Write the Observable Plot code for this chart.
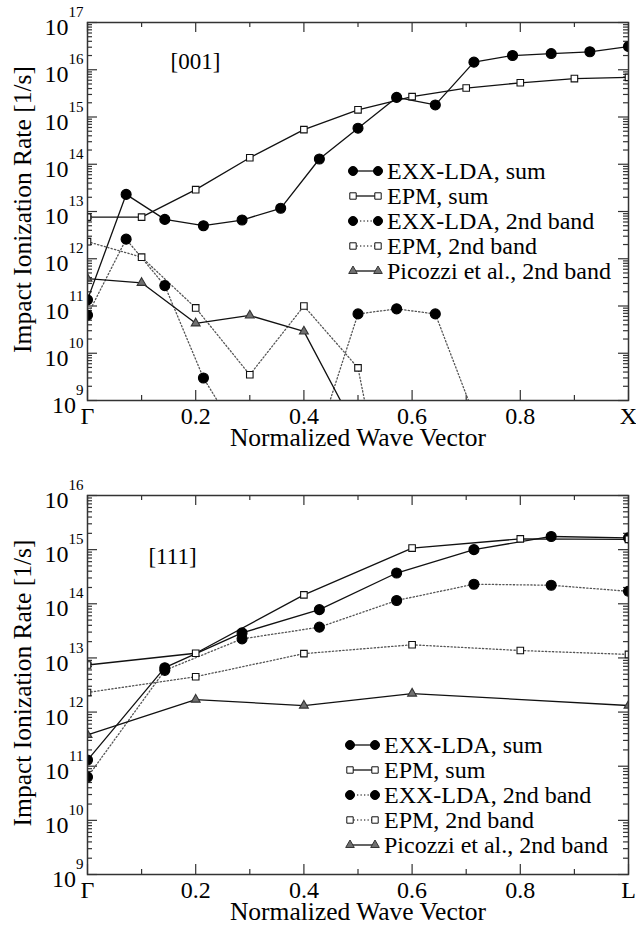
<!DOCTYPE html>
<html>
<head>
<meta charset="utf-8">
<script src="https://cdn.jsdelivr.net/npm/d3@7"></script>
<script src="https://cdn.jsdelivr.net/npm/@observablehq/plot@0.6"></script>
<style>
  html, body { margin: 0; padding: 0; background: #fff; }
  #chart { width: 636px; height: 927px; overflow: hidden; }
  #chart svg { display: block; }
</style>
</head>
<body>
<div id="chart"></div>
<script>
// ---------------- DATA ----------------
const xTickValues = [0, 0.2, 0.4, 0.6, 0.8, 1];
const xMinorTickValues = [0.1, 0.3, 0.5, 0.7, 0.9];
const seriesNames = ["EXX-LDA, sum", "EPM, sum", "EXX-LDA, 2nd band", "EPM, 2nd band", "Picozzi et al., 2nd band"];

// Panel [001]
const x001Exx = [0, 0.0714, 0.1429, 0.2143, 0.2857, 0.3571, 0.4286, 0.5, 0.5714, 0.6429, 0.7143, 0.7857, 0.8571, 0.9286, 1];
const exxSum001 = [1.35e11, 2.3e13, 6.8e12, 5.0e12, 6.6e12, 1.17e13, 1.29e14, 5.8e14, 2.6e15, 1.8e15, 1.45e16, 2.0e16, 2.2e16, 2.4e16, 3.1e16];
const exx2nd001 = [6.4e10, 2.6e12, 2.7e11, 3.0e9, 1.4e8, 5e7, 2e8, 6.8e10, 8.7e10, 6.8e10, 5e8];
const x001Epm = [0, 0.1, 0.2, 0.3, 0.4, 0.5, 0.6, 0.7, 0.8, 0.9, 1];
const epmSum001 = [7.6e12, 7.6e12, 2.9e13, 1.37e14, 5.4e14, 1.42e15, 2.7e15, 4.1e15, 5.3e15, 6.5e15, 6.9e15];
const epm2nd001 = [2.3e12, 1.08e12, 9.1e10, 3.5e9, 1.0e11, 4.9e9, 1e4];
const x001Pic = [0, 0.1, 0.2, 0.3, 0.4, 0.5];
const picozzi001 = [3.8e11, 3.1e11, 4.3e10, 6.3e10, 2.9e10, 2e8];

// Panel [111]
const x111Exx = [0, 0.1429, 0.2857, 0.4286, 0.5714, 0.7143, 0.8571, 1];
const exxSum111 = [1.3e11, 6.6e12, 2.9e13, 7.8e13, 3.7e14, 1.0e15, 1.75e15, 1.65e15];
const exx2nd111 = [6.3e10, 5.9e12, 2.25e13, 3.7e13, 1.15e14, 2.3e14, 2.2e14, 1.7e14];
const x111Epm = [0, 0.2, 0.4, 0.6, 0.8, 1];
const epmSum111 = [7.4e12, 1.22e13, 1.46e14, 1.07e15, 1.58e15, 1.55e15];
const epm2nd111 = [2.3e12, 4.5e12, 1.2e13, 1.75e13, 1.37e13, 1.16e13];
const x111Pic = [0, 0.2, 0.4, 0.6, 1];
const picozzi111 = [3.8e11, 1.7e12, 1.32e12, 2.2e12, 1.32e12];

// ---------------- STYLE ----------------
const FONT = "'Liberation Serif', 'Times New Roman', Times, serif";
const DOT = "1.3,2.2";
const styles = [
  {symbol: "circle",   r: 5,   fill: "#000",    stroke: "#000", line: "#111", dash: null, lw: 1.3},
  {symbol: "square",   r: 3.7, fill: "#fff",    stroke: "#111", line: "#111", dash: null, lw: 1.3},
  {symbol: "circle",   r: 5,   fill: "#000",    stroke: "#000", line: "#555", dash: DOT,  lw: 1.3},
  {symbol: "square",   r: 3.7, fill: "#fff",    stroke: "#111", line: "#555", dash: DOT,  lw: 1.3},
  {symbol: "triangle", r: 3.3, fill: "#707070", stroke: "#333", line: "#111", dash: null, lw: 1.3}
];
const legendSize = [4.5, 3.6, 4.5, 3.6, 3.2];

const rows = (xs, ys) => ys.map((y, i) => ({x: xs[i], y}));

function makePanel(cfg) {
  const W = 636, ml = 87, mr = 8;
  const {height, mt, mb, yLo, yHi, data, lastLabel, tag, tagDx, tagDy, legX, legY, tickDy} = cfg;
  const innerW = W - ml - mr, innerH = height - mt - mb;
  const majors = d3.range(yLo, yHi + 1).map(e => 10 ** e);
  const minors = [];
  for (let e = yLo; e < yHi; e++) for (let m = 2; m <= 9; m++) minors.push(m * 10 ** e);
  const tk = {stroke: "#333", strokeWidth: 1.2};

  const marks = [
    Plot.tickY(majors, {y: d => d, insetRight: innerW - 10, ...tk}),
    Plot.tickY(majors, {y: d => d, insetLeft: innerW - 10, ...tk}),
    Plot.tickY(minors, {y: d => d, insetRight: innerW - 5, ...tk}),
    Plot.tickY(minors, {y: d => d, insetLeft: innerW - 5, ...tk}),
    Plot.tickX(xTickValues, {x: d => d, insetTop: innerH - 10, ...tk}),
    Plot.tickX(xTickValues, {x: d => d, insetBottom: innerH - 10, ...tk}),
    Plot.tickX(xMinorTickValues, {x: d => d, insetTop: innerH - 5, ...tk}),
    Plot.tickX(xMinorTickValues, {x: d => d, insetBottom: innerH - 5, ...tk}),
    Plot.axisX({ticks: xTickValues, tickSize: 0, tickPadding: 6, fontSize: 24, label: null,
      tickFormat: d => d === 0 ? "Γ" : d === 1 ? lastLabel : d.toFixed(1)}),
    Plot.axisY({ticks: majors, tickSize: 0, tickPadding: 4, fontSize: 24, label: null, dy: tickDy,
      tickFormat: d => String(Math.round(Math.log10(d)))}),
    Plot.text(["Normalized Wave Vector"], {frameAnchor: "bottom", dy: 45, textAnchor: "middle", lineAnchor: "bottom", fontSize: 25.5, fill: "#000"}),
    Plot.text(["Impact Ionization Rate [1/s]"], {frameAnchor: "left", dx: -65, dy: -2, rotate: -90, textAnchor: "middle", lineAnchor: "middle", fontSize: 25.5, fill: "#000"}),
    Plot.text([tag], {frameAnchor: "top-left", dx: tagDx, dy: tagDy, textAnchor: "middle", lineAnchor: "middle", fontSize: 23, fill: "#000"})
  ];
  data.forEach((d, i) => {
    const s = styles[i];
    marks.push(Plot.line(d, {x: "x", y: "y", stroke: s.line, strokeWidth: s.lw, strokeDasharray: s.dash, clip: true}));
  });
  data.forEach((d, i) => {
    const s = styles[i];
    marks.push(Plot.dot(d, {x: "x", y: "y", symbol: s.symbol, r: s.r, fill: s.fill, stroke: s.stroke, strokeWidth: 1.1, clip: true}));
  });
  marks.push(Plot.frame({stroke: "#333", strokeWidth: 1.5}));

  const svg = Plot.plot({
    width: W, height, marginLeft: ml, marginRight: mr, marginTop: mt, marginBottom: mb,
    style: {fontFamily: FONT, background: "#fff", color: "#000", overflow: "visible"},
    x: {domain: [0, 1]},
    y: {type: "log", domain: [10 ** yLo, 10 ** yHi]},
    marks
  });

  // superscript exponents on the y tick labels
  d3.select(svg).selectAll('g[aria-label="y-axis tick label"] text').each(function () {
    const t = d3.select(this);
    const e = t.text();
    t.text("");
    t.append("tspan").text("10");
    t.append("tspan").attr("font-size", 15).attr("dy", -18).text(e);
  });

  // legend
  const g = d3.select(svg).append("g").attr("aria-label", "legend").attr("text-anchor", "start");
  const symMap = {circle: d3.symbolCircle, square: d3.symbolSquare, triangle: d3.symbolTriangle};
  seriesNames.forEach((name, i) => {
    const s = styles[i], y = legY + i * 25, x1 = legX, x2 = legX + 25;
    g.append("line").attr("x1", x1).attr("x2", x2).attr("y1", y).attr("y2", y)
      .attr("stroke", s.line).attr("stroke-width", s.lw).attr("stroke-dasharray", s.dash);
    const path = d3.symbol(symMap[s.symbol], Math.PI * legendSize[i] ** 2)();
    [x1, x2].forEach(x => g.append("path").attr("d", path).attr("transform", `translate(${x},${y})`)
      .attr("fill", s.fill).attr("stroke", s.stroke).attr("stroke-width", 1));
    g.append("text").attr("x", x2 + 9).attr("y", y).attr("dy", "0.32em")
      .attr("text-anchor", "start").attr("font-size", 24).attr("fill", "#000").text(name);
  });
  return svg;
}

const chart = document.getElementById("chart");
chart.append(makePanel({
  height: 460, mt: 22, mb: 60, yLo: 9, yHi: 17, lastLabel: "X", tag: "[001]", tagDx: 108, tagDy: 39, tickDy: 5,
  legX: 353, legY: 171,
  data: [rows(x001Exx, exxSum001), rows(x001Epm, epmSum001), rows(x001Exx, exx2nd001), rows(x001Epm, epm2nd001), rows(x001Pic, picozzi001)]
}));
chart.append(makePanel({
  height: 467, mt: 35, mb: 53, yLo: 9, yHi: 16, lastLabel: "L", tag: "[111]", tagDx: 85, tagDy: 61, tickDy: 5,
  legX: 350, legY: 285,
  data: [rows(x111Exx, exxSum111), rows(x111Epm, epmSum111), rows(x111Exx, exx2nd111), rows(x111Epm, epm2nd111), rows(x111Pic, picozzi111)]
}));
</script>
</body>
</html>
